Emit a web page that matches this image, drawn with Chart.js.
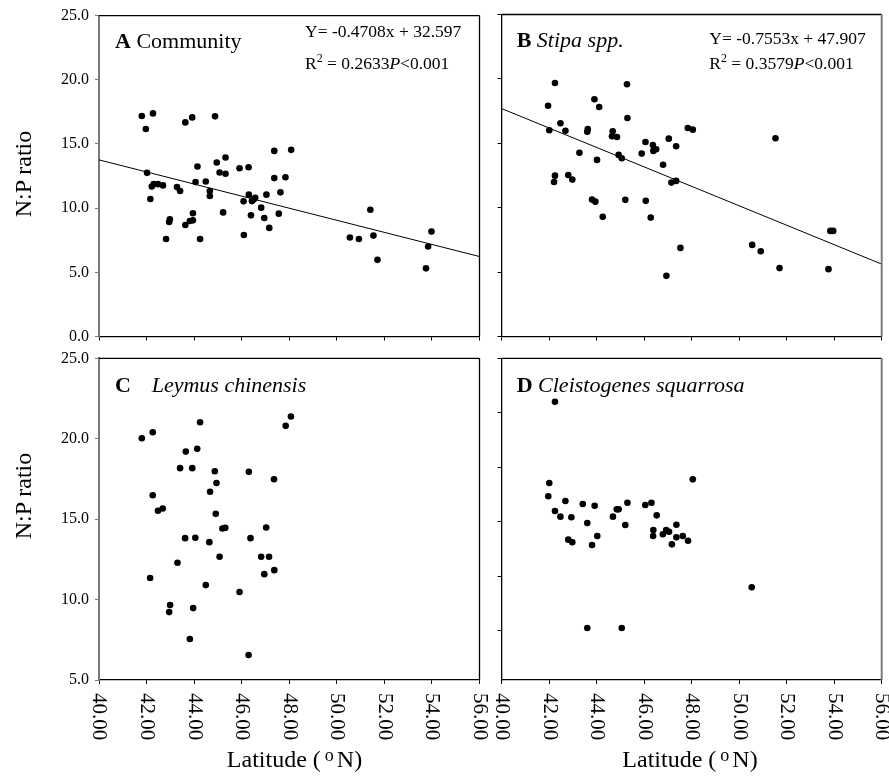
<!DOCTYPE html>
<html>
<head>
<meta charset="utf-8">
<script src="https://cdn.jsdelivr.net/npm/chart.js@4.4.0/dist/chart.umd.min.js"></script>
<style>
  body { margin: 0; background: #fff; }
  #wrap { position: relative; width: 889px; height: 776px; font-family: "Liberation Serif", "Times New Roman", serif; }
  #wrap canvas { position: absolute; left: 0; top: 0; }
  .ttl { position: absolute; font-size: 24px; line-height: 24px; white-space: nowrap; color: #000; }
  .ttl sup { font-size: 18px; vertical-align: 6px; line-height: 0; margin-left: 4px; margin-right: 3px; }
</style>
</head>
<body>
<div id="wrap">
  <canvas id="cA" width="889" height="776"></canvas>
  <canvas id="cB" width="889" height="776"></canvas>
  <canvas id="cC" width="889" height="776"></canvas>
  <canvas id="cD" width="889" height="776"></canvas>
  <div class="ttl" style="left:22.5px; top:174px; transform:translate(-50%,-50%) rotate(-90deg);">N:P ratio</div>
  <div class="ttl" style="left:22.5px; top:496px; transform:translate(-50%,-50%) rotate(-90deg);">N:P ratio</div>
  <div class="ttl" style="left:294.5px; top:747px; transform:translateX(-50%);">Latitude (<sup>o</sup>N)</div>
  <div class="ttl" style="left:690px; top:747px; transform:translateX(-50%);">Latitude (<sup>o</sup>N)</div>
</div>
<script>
'use strict';

// tick values
var xTicks = [40, 42, 44, 46, 48, 50, 52, 54, 56];
var yTicksTop = [0, 5, 10, 15, 20, 25];
var yTicksC = [5, 10, 15, 20, 25];
var yTicksD = [5, 10, 15, 20, 25, 30];

// A Community
var latA = [41.80, 41.97, 42.27, 42.02, 42.16, 42.22, 42.30, 42.48, 42.69, 42.82, 42.95, 42.98,
  43.28, 43.41, 43.63, 43.63, 43.92, 43.82, 43.95, 43.95, 44.06, 44.14, 44.25, 44.49, 44.66, 44.66,
  44.88, 44.95, 45.07, 45.22, 45.32, 45.32, 45.91, 46.08, 46.09, 46.29, 46.30, 46.39, 46.43, 46.50,
  46.57, 46.82, 46.95, 47.04, 47.16, 47.37, 47.37, 47.56, 47.63, 47.84, 48.08, 50.55, 50.93, 51.41,
  51.54, 51.71, 53.75, 53.84, 53.98];
var npA = [17.18, 16.17, 17.38, 12.75, 10.71, 11.69, 11.87, 11.87, 11.77, 7.60, 8.92, 9.13,
  11.64, 11.33, 16.68, 8.69, 17.07, 9.00, 9.05, 9.60, 12.03, 13.24, 7.60, 12.08, 11.33, 10.94,
  17.15, 13.55, 12.78, 9.67, 13.94, 12.68, 13.11, 10.53, 7.91, 13.19, 11.05, 9.44, 10.55, 10.68,
  10.81, 10.04, 9.23, 11.05, 8.46, 14.46, 12.34, 9.57, 11.23, 12.41, 14.54, 7.71, 7.60, 9.88,
  7.86, 5.97, 5.31, 7.01, 8.18];
var fitLatA = [40, 56];
var fitNpA = [13.76, 6.23];

// B Stipa spp.
var latB = [41.96, 42.25, 42.01, 42.48, 42.69, 42.25, 42.21, 42.81, 42.98, 43.28, 43.63, 43.61,
  43.91, 44.11, 44.02, 43.81, 43.95, 44.26, 44.65, 44.68, 44.86, 44.93, 45.06, 45.28, 45.30, 45.21,
  45.90, 46.06, 46.07, 46.28, 46.37, 46.39, 46.51, 46.80, 47.04, 47.35, 47.15, 47.35, 47.53, 46.94,
  47.84, 48.05, 51.53, 50.55, 50.91, 51.70, 53.76, 53.84, 53.96];
var npB = [17.92, 19.68, 16.01, 16.56, 15.98, 12.49, 12.00, 12.54, 12.18, 14.27, 16.11, 15.90,
  18.42, 17.82, 13.71, 10.63, 10.47, 9.29, 15.55, 15.93, 15.49, 14.10, 13.84, 19.58, 16.97, 10.61,
  14.20, 15.10, 10.53, 9.23, 14.87, 14.41, 14.54, 13.34, 15.36, 14.77, 11.95, 12.08, 6.88, 4.71,
  16.19, 16.06, 15.39, 7.11, 6.62, 5.31, 5.23, 8.20, 8.20];
var fitLatB = [40, 56];
var fitNpB = [17.70, 5.62];

// C Leymus chinensis
var latC = [41.80, 42.26, 44.25, 43.65, 44.13, 43.41, 43.92, 44.87, 44.94, 44.67, 46.30, 47.36,
  42.26, 42.48, 42.68, 44.91, 45.19, 45.31, 47.03, 43.62, 44.05, 44.64, 46.37, 43.30, 45.07, 46.82,
  47.15, 46.95, 47.37, 42.15, 44.49, 45.91, 42.99, 42.95, 43.96, 47.85, 48.07, 43.82, 46.29];
var npC = [20.03, 20.40, 21.02, 19.20, 19.37, 18.17, 18.17, 17.98, 17.25, 16.70, 17.94, 17.48,
  16.49, 15.52, 15.66, 15.33, 14.42, 14.46, 14.48, 13.82, 13.84, 13.57, 13.82, 12.29, 12.66, 12.66,
  12.66, 11.58, 11.83, 11.34, 10.90, 10.47, 9.66, 9.22, 9.47, 20.80, 21.38, 7.55, 6.55];

// D Cleistogenes squarrosa
var latD = [42.25, 42.01, 41.97, 42.25, 42.48, 42.69, 42.94, 42.81, 42.98, 43.42, 43.61, 43.81,
  43.92, 44.03, 44.69, 44.85, 44.93, 45.21, 45.30, 46.05, 46.31, 46.53, 46.39, 46.38, 46.79, 46.93,
  47.05, 47.17, 47.36, 47.36, 47.63, 47.85, 48.05, 50.53, 43.61, 45.06];
var npD = [26.02, 18.56, 17.35, 16.00, 15.48, 16.91, 15.42, 13.37, 13.13, 16.64, 14.90, 12.88,
  16.48, 13.70, 15.48, 16.15, 16.15, 14.71, 16.76, 16.55, 16.76, 15.60, 14.25, 13.70, 13.86, 14.25,
  14.10, 12.94, 14.74, 13.58, 13.70, 13.27, 18.90, 9.00, 5.27, 5.27];

Chart.defaults.font.family = '"Liberation Serif", "Times New Roman", serif';
Chart.defaults.color = '#000';

var W = 889, H = 776;
var SERIF = '"Liberation Serif", "Times New Roman", serif';

function frame(rightColor) {
  return {
    id: 'frame',
    afterDatasetsDraw: function (chart) {
      var ctx = chart.ctx, a = chart.chartArea;
      ctx.save();
      ctx.strokeStyle = '#000';
      ctx.lineWidth = 1.3;
      ctx.beginPath(); ctx.moveTo(a.left, a.top); ctx.lineTo(a.right, a.top); ctx.stroke();
      ctx.strokeStyle = rightColor;
      ctx.lineWidth = rightColor === '#000' ? 1.3 : 2;
      ctx.beginPath(); ctx.moveTo(a.right, a.top); ctx.lineTo(a.right, a.bottom); ctx.stroke();
      ctx.restore();
    }
  };
}

// x labels read top to bottom, so draw them ourselves
function xLabels(show) {
  return {
    id: 'xLabels',
    afterDraw: function (chart) {
      if (!show) return;
      var ctx = chart.ctx, sx = chart.scales.x;
      ctx.save();
      ctx.font = '21px ' + SERIF;
      ctx.fillStyle = '#000';
      ctx.textAlign = 'left';
      ctx.textBaseline = 'middle';
      sx.ticks.forEach(function (t) {
        ctx.save();
        ctx.translate(sx.getPixelForValue(t.value), sx.top + 13);
        ctx.rotate(Math.PI / 2);
        ctx.fillText(t.value.toFixed(2), 0, 0);
        ctx.restore();
      });
      ctx.restore();
    }
  };
}

function notes(lines) {
  return {
    id: 'notes',
    afterDraw: function (chart) {
      var ctx = chart.ctx;
      ctx.save();
      ctx.fillStyle = '#000';
      ctx.textAlign = 'left';
      ctx.textBaseline = 'alphabetic';
      lines.forEach(function (line) {
        var x = line.x;
        line.runs.forEach(function (r) {
          ctx.font = r.f + ' ' + SERIF;
          if (r.at !== undefined) x = r.at;
          ctx.fillText(r.t, x, line.y + (r.dy || 0));
          x += ctx.measureText(r.t).width;
        });
      });
      ctx.restore();
    }
  };
}

function pts(xs, ys) {
  return xs.map(function (v, i) { return { x: v, y: ys[i] }; });
}

function panel(id, box, lat, np, fitX, fitY, yr, yTicks, showY, showX, leftColor, rightColor, lines) {
  var yw = showY ? box.l : 10;
  var datasets = [{
    data: pts(lat, np),
    pointRadius: 3.3,
    pointHoverRadius: 3.3,
    backgroundColor: '#000',
    borderWidth: 0
  }];
  if (fitX) {
    datasets.push({
      type: 'line',
      data: pts(fitX, fitY),
      borderColor: '#000',
      borderWidth: 1,
      pointRadius: 0,
      showLine: true,
      fill: false
    });
  }
  return new Chart(document.getElementById(id), {
    type: 'scatter',
    data: { datasets: datasets },
    options: {
      responsive: false,
      animation: false,
      events: [],
      layout: { padding: { left: box.l - yw, top: box.t, right: W - box.r, bottom: H - box.b - 10 } },
      plugins: { legend: { display: false }, tooltip: { enabled: false } },
      scales: {
        x: {
          type: 'linear', min: 40, max: 56,
          afterBuildTicks: function (s) { s.ticks = xTicks.map(function (v) { return { value: v }; }); },
          afterFit: function (s) { s.height = 10; },
          ticks: { display: false },
          grid: { drawOnChartArea: false, tickLength: 4, color: '#000', lineWidth: 1 },
          border: { color: '#000', width: 1.3 }
        },
        y: {
          type: 'linear', min: yr[0], max: yr[1],
          afterBuildTicks: function (s) { s.ticks = yTicks.map(function (v) { return { value: v }; }); },
          afterFit: function (s) { s.width = yw; },
          ticks: {
            display: showY, padding: 6, color: '#000',
            font: { size: 16 },
            callback: function (v) { return Number(v).toFixed(1); }
          },
          grid: { drawOnChartArea: false, tickLength: 4, color: leftColor, lineWidth: 1 },
          border: { color: leftColor, width: leftColor === '#000' ? 1.3 : 2 }
        }
      }
    },
    plugins: [frame(rightColor), xLabels(showX), notes(lines)]
  });
}

var GRAY = '#7a7a7a';

panel('cA', { l: 99, t: 14.5, r: 479.5, b: 336.5 }, latA, npA, fitLatA, fitNpA, [0, 25], yTicksTop,
  true, false, GRAY, '#000', [
    { x: 115, y: 47.5, runs: [{ t: 'A', f: 'bold 22px' }, { t: ' Community', f: '22px' }] },
    { x: 305, y: 37.3, runs: [{ t: 'Y= -0.4708x + 32.597', f: '17.5px' }] },
    { x: 305, y: 69, runs: [{ t: 'R', f: '17.5px' }, { t: '2', f: '12px', dy: -7 }, { t: ' = 0.2633', f: '17.5px' },
      { t: 'P', f: 'italic 17.5px' }, { t: '<0.001', f: '17.5px' }] }
  ]);

panel('cB', { l: 501.5, t: 14.5, r: 881.7, b: 336.5 }, latB, npB, fitLatB, fitNpB, [0, 25], yTicksTop,
  false, false, '#000', GRAY, [
    { x: 516.7, y: 47, runs: [{ t: 'B', f: 'bold 22px' }, { t: ' ', f: '22px' }, { t: 'Stipa spp.', f: 'italic 22px' }] },
    { x: 709.3, y: 44, runs: [{ t: 'Y= -0.7553x + 47.907', f: '17.5px' }] },
    { x: 709.3, y: 69, runs: [{ t: 'R', f: '17.5px' }, { t: '2', f: '12px', dy: -7 }, { t: ' = 0.3579', f: '17.5px' },
      { t: 'P', f: 'italic 17.5px' }, { t: '<0.001', f: '17.5px' }] }
  ]);

panel('cC', { l: 99, t: 358.3, r: 479.5, b: 680 }, latC, npC, null, null, [5, 25], yTicksC,
  true, true, GRAY, '#000', [
    { x: 115, y: 391.7, runs: [{ t: 'C', f: 'bold 22px' }, { t: 'Leymus chinensis', f: 'italic 22px', at: 151.7 }] }
  ]);

panel('cD', { l: 501.5, t: 358.3, r: 881.7, b: 680 }, latD, npD, null, null, [0.5, 30], yTicksD,
  false, true, '#000', GRAY, [
    { x: 516.7, y: 391.7, runs: [{ t: 'D', f: 'bold 22px' }, { t: ' Cleistogenes squarrosa', f: 'italic 22px' }] }
  ]);
</script>
</body>
</html>
